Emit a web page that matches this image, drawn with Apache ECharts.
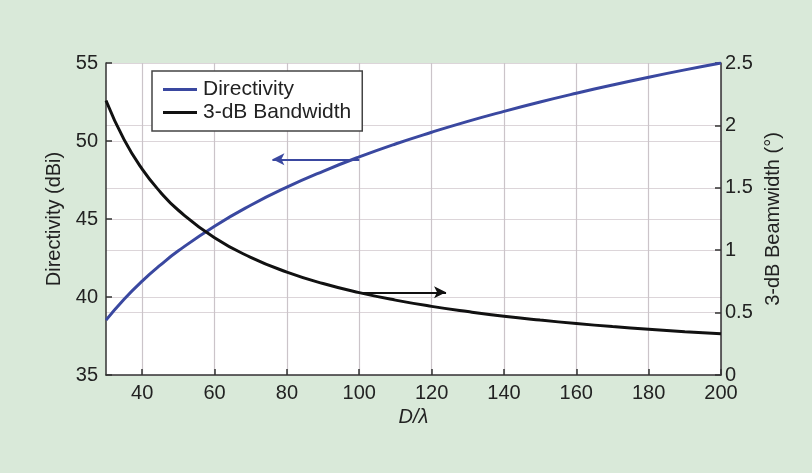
<!DOCTYPE html>
<html lang="en">
<head>
	<meta charset="UTF-8">
	<title>Directivity</title>
	<script src="https://cdn.jsdelivr.net/npm/echarts@6/dist/echarts.min.js"></script>
	<style>
		html,body{margin:0;height:100%;background:#d9e9d9;}
	</style>
</head>
<body>
	<div id="chart" style="width:812px; height:473px;"></div>
<script>
	// D/lambda samples
	var ratio = [30, 35, 40, 45, 50, 60, 70, 80, 90, 100, 110, 120, 130, 140, 150, 160, 170, 180, 190, 200];
	// directivity in dBi (left axis)
	var directivity = [38.52, 39.86, 41.02, 42.04, 42.96, 44.54, 45.88, 47.04, 48.06, 48.98, 49.81, 50.56, 51.26, 51.90, 52.50, 53.06, 53.59, 54.09, 54.56, 55.0];
	// 3-dB beamwidth in degrees (right axis)
	var beamwidth = [2.2, 1.886, 1.65, 1.467, 1.32, 1.1, 0.943, 0.825, 0.733, 0.66, 0.6, 0.55, 0.508, 0.471, 0.44, 0.4125, 0.388, 0.367, 0.347, 0.33];
	var xTicks = [40, 60, 80, 100, 120, 140, 160, 180, 200];

	function pairs(xs, ys){
		var arr = [];
		for (var i = 0; i < xs.length; i++) {
			arr.push([xs[i], ys[i]]);
		};
		return arr;
	}

	var font = 'Liberation Sans, Arial, sans-serif';
	var txt = '#222';
	var axisCol = '#333';

	var option = {
		backgroundColor: '#d9e9d9',
		animation: false,
		textStyle: {fontFamily: font},
		grid: {left: 106, right: 91, top: 63, bottom: 98, show: true, backgroundColor: '#fff', borderWidth: 0},
		legend: {
			left: 152, top: 71, orient: 'vertical',
			backgroundColor: '#fff', borderColor: '#444', borderWidth: 1.5,
			padding: [8, 11, 8, 11], itemGap: 2,
			itemWidth: 34, itemHeight: 3, icon: 'rect',
			textStyle: {fontSize: 21, color: txt, fontFamily: font, padding: [0, 0, 0, 1]},
			data: ['Directivity', '3-dB Bandwidth']
		},
		xAxis: {
			type: 'value', min: 30, max: 200,
			name: 'D/λ', nameLocation: 'middle', nameGap: 32,
			nameTextStyle: {fontSize: 20, color: txt, fontStyle: 'italic'},
			axisLine: {lineStyle: {color: axisCol, width: 1.5}},
			axisTick: {inside: true, length: 6, customValues: xTicks, lineStyle: {color: axisCol, width: 1.5}},
			axisLabel: {fontSize: 20, color: txt, margin: 8, customValues: xTicks},
			splitLine: {show: true, lineStyle: {color: '#cbc4c9', width: 1.2}}
		},
		yAxis: [{
			type: 'value', min: 35, max: 55, interval: 5,
			name: 'Directivity (dBi)', nameLocation: 'middle', nameGap: 39,
			nameTextStyle: {fontSize: 20, color: txt},
			axisLine: {show: true, lineStyle: {color: axisCol, width: 1.5}},
			axisTick: {show: true, inside: true, length: 6, lineStyle: {color: axisCol, width: 1.5}},
			axisLabel: {fontSize: 20, color: txt, margin: 8},
			splitLine: {show: true, lineStyle: {color: '#dcd5d9', width: 1.2}}
		}, {
			type: 'value', min: 0, max: 2.5, interval: 0.5,
			name: '3-dB Beamwidth (°)', nameLocation: 'middle', nameGap: 42,
			nameRotate: 90,
			nameTextStyle: {fontSize: 20, color: txt},
			axisLine: {show: true, lineStyle: {color: axisCol, width: 1.5}},
			axisTick: {show: true, inside: true, length: 6, lineStyle: {color: axisCol, width: 1.5}},
			axisLabel: {fontSize: 20, color: txt, margin: 4},
			splitLine: {show: true, lineStyle: {color: '#dcd5d9', width: 1.2}}
		}],
		series: [{
			name: 'Directivity', type: 'line', yAxisIndex: 0,
			data: pairs(ratio, directivity), smooth: true, showSymbol: false,
			itemStyle: {color: '#3a48a0'},
			lineStyle: {color: '#3a48a0', width: 3},
			markLine: {
				silent: true, symbol: ['none', 'arrow'], symbolSize: [9, 12],
				lineStyle: {color: '#3a48a0', width: 2, type: 'solid'}, label: {show: false},
				data: [[{coord: [100, 48.83]}, {coord: [76, 48.83]}]]
			}
		}, {
			name: '3-dB Bandwidth', type: 'line', yAxisIndex: 1,
			data: pairs(ratio, beamwidth), smooth: true, showSymbol: false,
			itemStyle: {color: '#111'},
			lineStyle: {color: '#111', width: 3},
			markLine: {
				silent: true, symbol: ['none', 'arrow'], symbolSize: [9, 12],
				lineStyle: {color: '#111', width: 2, type: 'solid'}, label: {show: false},
				data: [[{coord: [100, 0.663]}, {coord: [124, 0.663]}]]
			}
		}]
	};

	var myChart = echarts.init(document.getElementById('chart'));
	myChart.setOption(option);
</script>
</body>
</html>
